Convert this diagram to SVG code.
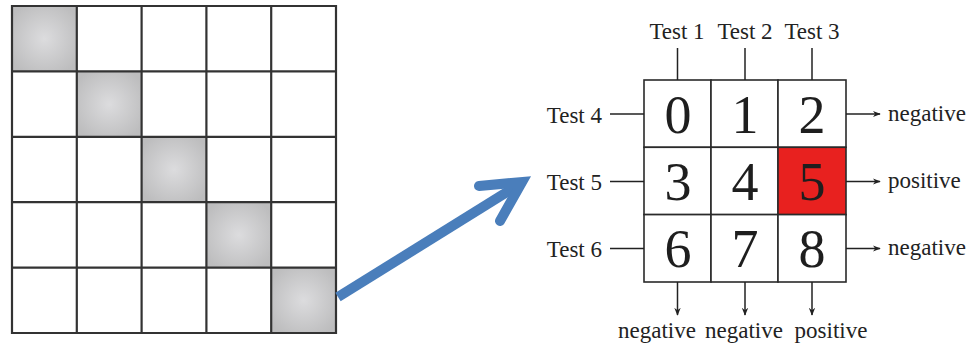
<svg xmlns="http://www.w3.org/2000/svg" width="976" height="346" viewBox="0 0 976 346">
  <defs>
    <radialGradient id="shade" cx="0.5" cy="0.5" r="0.6">
      <stop offset="0" stop-color="#dcdcde"/>
      <stop offset="1" stop-color="#bdbdbe"/>
    </radialGradient>
    <marker id="tip" viewBox="0 0 10 10" refX="9" refY="5" markerWidth="8" markerHeight="8" markerUnits="userSpaceOnUse" orient="auto">
      <path d="M0,1 L10,5 L0,9 L3,5 Z" fill="#222"/>
    </marker>
    <style>
      .grid { fill: none; stroke: #333; stroke-width: 2.2; }
      .hi { fill: url(#shade); }
      .cell { fill: #fff; stroke: #2a2a2a; stroke-width: 1.6; }
      .red { fill: #e8211f; stroke: #2a2a2a; stroke-width: 1.6; }
      .digit { font-family: "Liberation Serif", "Times New Roman", serif; font-size: 54px; fill: #1e1e1e; text-anchor: middle; }
      .lbl { font-family: "Liberation Serif", "Times New Roman", serif; font-size: 23px; fill: #222; }
      .wire { stroke: #222; stroke-width: 1.5; fill: none; }
      .arr { stroke: #222; stroke-width: 1.5; fill: none; marker-end: url(#tip); }
    </style>
  </defs>

  <rect width="976" height="346" fill="#fff"/>

  <!-- 5x5 matrix with shaded diagonal -->
  <g id="matrix">
    <rect class="hi" x="12" y="6" width="64.8" height="65.4"/>
    <rect class="hi" x="76.8" y="71.4" width="64.8" height="65.4"/>
    <rect class="hi" x="141.6" y="136.8" width="64.8" height="65.4"/>
    <rect class="hi" x="206.4" y="202.2" width="64.8" height="65.4"/>
    <rect class="hi" x="271.2" y="267.6" width="64.8" height="65.4"/>
    <path class="grid" d="M12,6 H336 V333 H12 Z M76.8,6 V333 M141.6,6 V333 M206.4,6 V333 M271.2,6 V333 M12,71.4 H336 M12,136.8 H336 M12,202.2 H336 M12,267.6 H336"/>
  </g>

  <!-- 3x3 test grid -->
  <g id="cell0"><rect class="cell" x="644" y="80" width="67" height="67.3"/><text class="digit" x="678" y="133">0</text></g>
  <g id="cell1"><rect class="cell" x="711" y="80" width="67" height="67.3"/><text class="digit" x="745" y="133">1</text></g>
  <g id="cell2"><rect class="cell" x="778" y="80" width="68" height="67.3"/><text class="digit" x="812" y="133">2</text></g>
  <g id="cell3"><rect class="cell" x="644" y="147.3" width="67" height="67.3"/><text class="digit" x="678" y="200">3</text></g>
  <g id="cell4"><rect class="cell" x="711" y="147.3" width="67" height="67.3"/><text class="digit" x="745" y="200">4</text></g>
  <g id="cell5"><rect class="red" x="778" y="147.3" width="68" height="67.3"/><text class="digit" x="812" y="200">5</text></g>
  <g id="cell6"><rect class="cell" x="644" y="214.6" width="67" height="67.4"/><text class="digit" x="678" y="267">6</text></g>
  <g id="cell7"><rect class="cell" x="711" y="214.6" width="67" height="67.4"/><text class="digit" x="745" y="267">7</text></g>
  <g id="cell8"><rect class="cell" x="778" y="214.6" width="68" height="67.4"/><text class="digit" x="812" y="267">8</text></g>

  <!-- test labels -->
  <g id="test1"><text class="lbl" x="677" y="39" text-anchor="middle">Test 1</text></g>
  <g id="test2"><text class="lbl" x="745" y="39" text-anchor="middle">Test 2</text></g>
  <g id="test3"><text class="lbl" x="812" y="39" text-anchor="middle">Test 3</text></g>
  <g id="test4"><text class="lbl" x="602" y="123" text-anchor="end">Test 4</text></g>
  <g id="test5"><text class="lbl" x="602" y="190" text-anchor="end">Test 5</text></g>
  <g id="test6"><text class="lbl" x="602" y="257" text-anchor="end">Test 6</text></g>

  <!-- result labels -->
  <g id="res-row0"><text class="lbl" x="888" y="121">negative</text></g>
  <g id="res-row1"><text class="lbl" x="888" y="188">positive</text></g>
  <g id="res-row2"><text class="lbl" x="888" y="255">negative</text></g>
  <g id="res-col0"><text class="lbl" x="657" y="338" text-anchor="middle">negative</text></g>
  <g id="res-col1"><text class="lbl" x="744" y="338" text-anchor="middle">negative</text></g>
  <g id="res-col2"><text class="lbl" x="831" y="338" text-anchor="middle">positive</text></g>

  <!-- connectors -->
  <g id="connectors">
    <line class="wire" x1="677.5" y1="48" x2="677.5" y2="80"/>
    <line class="wire" x1="745" y1="48" x2="745" y2="80"/>
    <line class="wire" x1="812" y1="48" x2="812" y2="80"/>
    <line class="wire" x1="610" y1="114" x2="644" y2="114"/>
    <line class="wire" x1="610" y1="181.5" x2="644" y2="181.5"/>
    <line class="wire" x1="610" y1="248.5" x2="644" y2="248.5"/>
    <line class="arr" x1="846" y1="114" x2="880" y2="114"/>
    <line class="arr" x1="846" y1="181.5" x2="880" y2="181.5"/>
    <line class="arr" x1="846" y1="248.5" x2="880" y2="248.5"/>
    <line class="arr" x1="677.5" y1="282" x2="677.5" y2="315"/>
    <line class="arr" x1="745" y1="282" x2="745" y2="315"/>
    <line class="arr" x1="812" y1="282" x2="812" y2="315"/>

    <!-- big blue arrow from the matrix to the test grid -->
    <g id="blue-arrow" stroke="#4a7ebb" fill="none" stroke-width="10">
      <line x1="338" y1="297" x2="520" y2="184"/>
      <polyline points="479,186 522,182 500,221" stroke-linecap="round" stroke-linejoin="miter" stroke-miterlimit="10"/>
    </g>
  </g>
</svg>
